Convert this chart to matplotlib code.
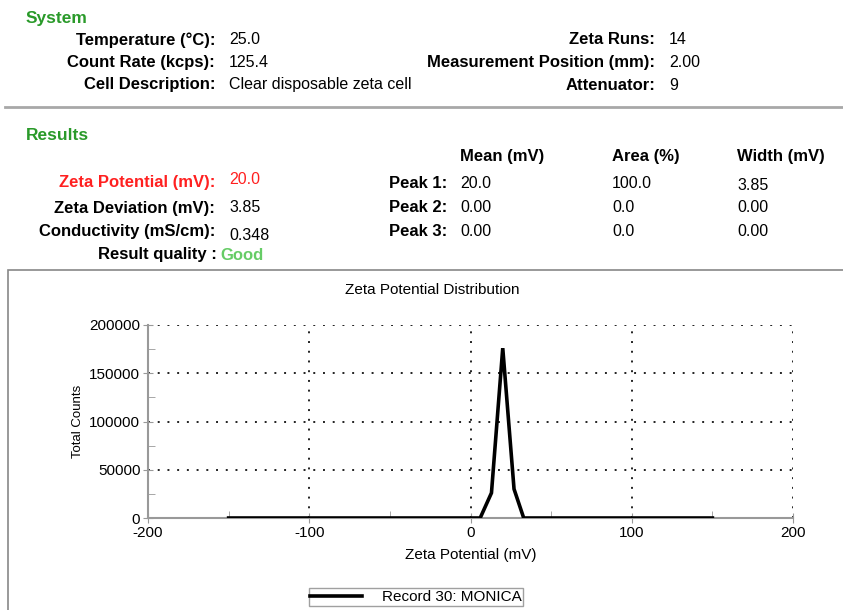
import matplotlib.pyplot as plt
from matplotlib.patches import Rectangle
from matplotlib.lines import Line2D

plt.rcParams['font.family'] = ['Liberation Sans', 'DejaVu Sans']
plt.rcParams['axes.unicode_minus'] = False

# measurement summary
system_left = [("Temperature (°C):", "25.0"),
               ("Count Rate (kcps):", "125.4"),
               ("Cell Description:", "Clear disposable zeta cell")]
system_right = [("Zeta Runs:", "14"),
                ("Measurement Position (mm):", "2.00"),
                ("Attenuator:", "9")]

result_labels = ["Zeta Potential (mV):", "Zeta Deviation (mV):", "Conductivity (mS/cm):"]
result_values = ["20.0", "3.85", "0.348"]
peak_names = ["Peak 1:", "Peak 2:", "Peak 3:"]
peak_mean = ["20.0", "0.00", "0.00"]
peak_area = ["100.0", "0.0", "0.0"]
peak_width = ["3.85", "0.00", "0.00"]
quality = "Good"

# zeta potential distribution (mV vs total counts)
zeta_mv = [-150, -100, -50, 0, 6, 13, 20, 27, 33, 50, 100, 150]
counts = [0, 0, 0, 0, 0, 26000, 176000, 30000, 0, 0, 0, 0]
record_name = "Record 30: MONICA"

W, H = 843, 610
fig = plt.figure(figsize=(W / 100, H / 100), dpi=100)

BODY = 11.5
BOLD = 12


def put(px, py, s, **kw):
    # place text using pixel coordinates measured from the top-left corner
    kw.setdefault("fontsize", BODY)
    kw.setdefault("va", "center")
    fig.text(px / W, 1 - py / H, s, **kw)


def bold(px, py, s, **kw):
    put(px, py, s, fontweight="bold", fontsize=kw.pop("fontsize", BOLD), **kw)


GREEN = "#2a9a2a"
bold(26, 18, "System", color=GREEN, fontsize=12.5)
for i, ((lab, val), (rlab, rval)) in enumerate(zip(system_left, system_right)):
    y = 40 + 22.5 * i
    bold(215, y, lab, ha="right")
    put(229, y, val)
    bold(655, y, rlab, ha="right")
    put(669, y, rval)

fig.add_artist(Line2D([5 / W, 1], [1 - 107 / H] * 2, color="#a8a8a8", lw=2))

bold(26, 135, "Results", color=GREEN, fontsize=12.5)
bold(460, 157, "Mean (mV)")
bold(612, 157, "Area (%)")
bold(737, 157, "Width (mV)")

row_y = [183, 208, 232]
val_dy = [-4, 0, 3]
for i in range(3):
    col = "#ff2020" if i == 0 else "black"
    bold(215, row_y[i], result_labels[i], ha="right", color=col)
    put(229, row_y[i] + val_dy[i], result_values[i], color=col)
    bold(447, row_y[i], peak_names[i], ha="right")
    put(460, row_y[i], peak_mean[i])
    put(612, row_y[i], peak_area[i])
    put(737, row_y[i] + (3 if i == 0 else 0), peak_width[i])
bold(217, 255, "Result quality :", ha="right")
bold(220, 255, quality, color="#66cc66")

# chart frame
fig.add_artist(Rectangle((8 / W, -0.01), 1, 1 - 270 / H + 0.01,
                         transform=fig.transFigure, fill=False,
                         edgecolor="#888888", lw=1.2))
put(432, 290, "Zeta Potential Distribution", ha="center", fontsize=11)

ax = fig.add_axes([148 / W, 1 - 518 / H, 645 / W, 193 / H])
ax.plot(zeta_mv, counts, color="black", lw=2.6, label=record_name,
        solid_joinstyle="miter", zorder=3)
ax.set_xlim(-200, 200)
ax.set_ylim(0, 200000)
ax.set_xticks([-200, -100, 0, 100, 200])
ax.set_xticks([-150, -50, 50, 150], minor=True)
ax.set_yticks([0, 50000, 100000, 150000, 200000])
ax.set_yticks([25000, 75000, 125000, 175000], minor=True)
ax.grid(True, which="major", color="#222222", linestyle=(0, (1, 4)), lw=1.4)
for s in ("top", "right"):
    ax.spines[s].set_visible(False)
for s in ("left", "bottom"):
    ax.spines[s].set_color("#999999")
    ax.spines[s].set_linewidth(1.5)
ax.tick_params(which="major", direction="inout", length=7, color="#999999",
               labelsize=11, pad=2)
ax.tick_params(which="minor", direction="in", length=5, color="#999999")
ax.set_xlabel("Zeta Potential (mV)", fontsize=11, labelpad=6)
ax.set_ylabel("Total Counts", fontsize=9.5, labelpad=4)

fig.legend(handles=ax.get_lines(), loc="center", bbox_to_anchor=(416 / W, 1 - 597 / H),
           fontsize=11, frameon=True, fancybox=False, edgecolor="#888888",
           handlelength=3.4, handletextpad=1.3, borderpad=0.1, borderaxespad=0)

fig.savefig("out.png", dpi=100)
